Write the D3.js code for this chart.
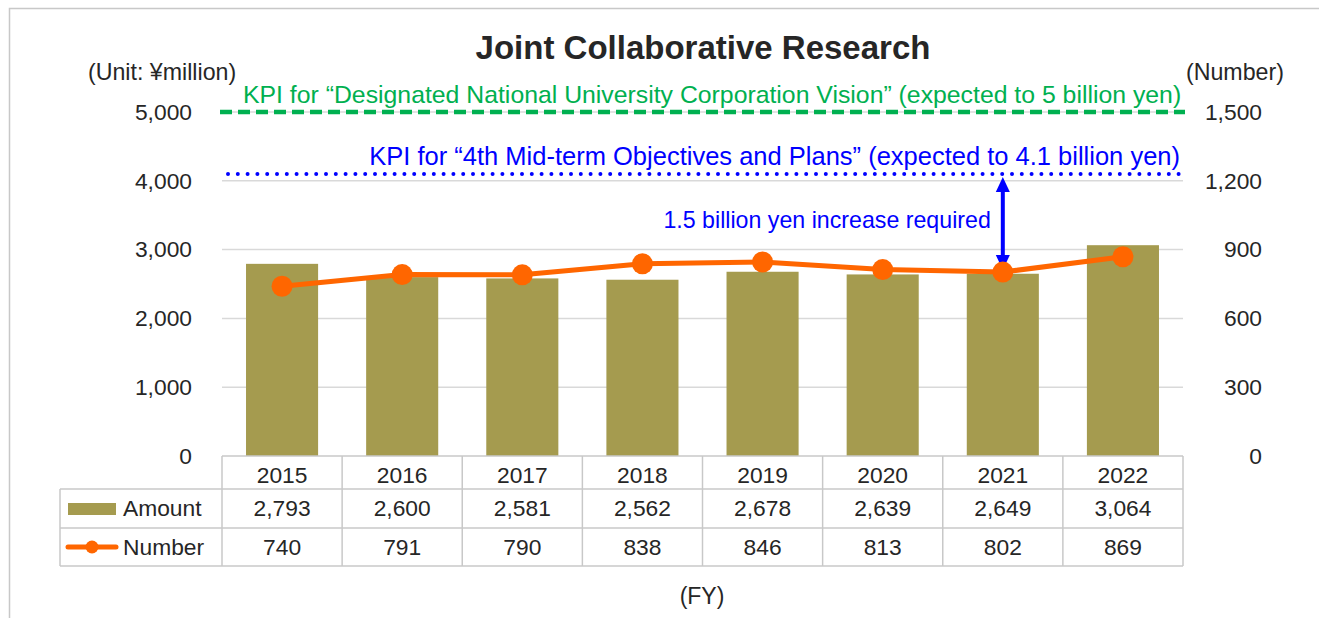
<!DOCTYPE html>
<html><head><meta charset="utf-8">
<script src="https://cdn.jsdelivr.net/npm/d3@7"></script>
<style>
html,body{margin:0;padding:0;background:#fff;}
svg{display:block;font-family:"Liberation Sans",Arial,sans-serif;}
</style></head>
<body>
<svg id="c" width="1319" height="618"></svg>
<script>
const years = ['2015','2016','2017','2018','2019','2020','2021','2022'];
const amount = [2793,2600,2581,2562,2678,2639,2649,3064];
const number = [740,791,790,838,846,813,802,869];
const leftTicks = [0,1000,2000,3000,4000,5000];
const rightTicks = [0,300,600,900,1200,1500];
const kpiVision = 5000;
const kpiMidterm = 4100;
const title = 'Joint Collaborative Research';
const greenLabel = 'KPI for \u201CDesignated National University Corporation Vision\u201D (expected to 5 billion yen)';
const blueLabel = 'KPI for \u201C4th Mid-term Objectives and Plans\u201D (expected to 4.1 billion yen)';
const arrowLabel = '1.5 billion yen increase required';
const arrowYear = '2021';

const svg = d3.select('#c');
const L = 222, R = 1183, Y0 = 456, YT = 112;
const x = d3.scaleBand().domain(years).range([L, R]).paddingInner(0.4).paddingOuter(0.2);
const xc = d3.scaleBand().domain(years).range([L, R]);
const yL = d3.scaleLinear().domain([0, 5000]).range([Y0, YT]);
const yR = d3.scaleLinear().domain([0, 1500]).range([Y0, YT]);
const grid = '#D9D9D9', txt = '#262626', border = '#C8C8C8';
const FS = 22.8;

// frame
svg.append('path').attr('d', `M9.5,618 V8.5 H1319`).attr('fill','none').attr('stroke', border).attr('stroke-width',1.5);

// title
svg.append('text').attr('x',703).attr('y',59).attr('text-anchor','middle')
  .attr('font-size',33).attr('font-weight','bold').attr('fill',txt).text(title);
svg.append('text').attr('x',88).attr('y',80).attr('font-size',23.2).attr('fill',txt).text('(Unit: \u00A5million)');
svg.append('text').attr('x',1186).attr('y',80).attr('font-size',23.2).attr('fill',txt).text('(Number)');

// gridlines
svg.append('g').selectAll('line').data(leftTicks.filter(d=>d>0)).join('line')
  .attr('x1',L).attr('x2',R).attr('y1',d=>yL(d)).attr('y2',d=>yL(d))
  .attr('stroke',grid).attr('stroke-width',1.5);

// axes
const axL = svg.append('g').attr('transform',`translate(${L},0)`)
  .call(d3.axisLeft(yL).tickValues(leftTicks).tickFormat(d3.format(',')).tickSize(0).tickPadding(30));
const axR = svg.append('g').attr('transform',`translate(${R},0)`)
  .call(d3.axisRight(yR).tickValues(rightTicks).tickFormat(d3.format(',')).tickSize(0).tickPadding(0));
axL.select('.domain').remove(); axR.select('.domain').remove();
axL.selectAll('text').attr('font-size',FS).attr('fill',txt).attr('font-family','"Liberation Sans",Arial,sans-serif');
axR.selectAll('text').attr('font-size',FS).attr('fill',txt).attr('font-family','"Liberation Sans",Arial,sans-serif')
  .attr('text-anchor','end').attr('x',1262-R);

// bars
svg.append('g').selectAll('rect').data(years).join('rect')
  .attr('x',d=>x(d)).attr('width',x.bandwidth())
  .attr('y',(d,i)=>yL(amount[i])).attr('height',(d,i)=>Y0-yL(amount[i]))
  .attr('fill','#A59B4F');

// KPI lines
svg.append('line').attr('x1',L-2).attr('x2',R+2).attr('y1',yL(kpiVision)).attr('y2',yL(kpiVision))
  .attr('stroke','#00B050').attr('stroke-width',4.5).attr('stroke-dasharray','12,6');
svg.append('line').attr('x1',L+6).attr('x2',R).attr('y1',yL(kpiMidterm)).attr('y2',yL(kpiMidterm))
  .attr('stroke','#0000FF').attr('stroke-width',4).attr('stroke-linecap','round').attr('stroke-dasharray','0,9.8');
svg.append('text').attr('x',243).attr('y',103).attr('font-size',24.8).attr('fill','#00B050').text(greenLabel);
svg.append('text').attr('x',1180).attr('y',165).attr('text-anchor','end').attr('font-size',25.5).attr('fill','#0000FF').text(blueLabel);

// arrow
const ax = xc(arrowYear) + xc.bandwidth()/2;
const aTop = yL(kpiMidterm) + 3, aBot = yR(number[years.indexOf(arrowYear)]) - 2;
svg.append('line').attr('x1',ax).attr('x2',ax).attr('y1',aTop+10).attr('y2',aBot-10).attr('stroke','#0000FF').attr('stroke-width',4);
svg.append('path').attr('d',`M${ax},${aTop} L${ax-7},${aTop+15} L${ax+7},${aTop+15} Z`).attr('fill','#0000FF');
svg.append('path').attr('d',`M${ax},${aBot} L${ax-7},${aBot-15} L${ax+7},${aBot-15} Z`).attr('fill','#0000FF');
svg.append('text').attr('x',ax-12).attr('y',228).attr('text-anchor','end').attr('font-size',23.2).attr('fill','#0000FF').text(arrowLabel);

// line series
const cx = d => xc(d) + xc.bandwidth()/2;
svg.append('path').datum(years).attr('fill','none').attr('stroke','#FF6600').attr('stroke-width',5)
  .attr('stroke-linejoin','round')
  .attr('d', d3.line().x(d=>cx(d)).y((d,i)=>yR(number[i])));
svg.append('g').selectAll('circle').data(years).join('circle')
  .attr('cx',d=>cx(d)).attr('cy',(d,i)=>yR(number[i])).attr('r',10.5).attr('fill','#FF6600');

// data table
const T = svg.append('g');
const rowY = [Y0, 489, 528, 566];
const TL = 60;
function ln(x1,y1,x2,y2){T.append('line').attr('x1',x1).attr('y1',y1).attr('x2',x2).attr('y2',y2).attr('stroke',border).attr('stroke-width',1.5);}
ln(L,rowY[0],R,rowY[0]);
ln(TL,rowY[1],R,rowY[1]);
ln(TL,rowY[2],R,rowY[2]);
ln(TL,rowY[3],R,rowY[3]);
ln(TL,rowY[1],TL,rowY[3]);
years.forEach(d=>ln(xc(d),rowY[0],xc(d),rowY[3]));
ln(R,rowY[0],R,rowY[3]);
const fmt = d3.format(',');
T.selectAll('.yr').data(years).join('text').attr('x',d=>cx(d)).attr('y',483).attr('text-anchor','middle')
  .attr('font-size',FS).attr('fill',txt).text(d=>d);
T.selectAll('.am').data(years).join('text').attr('x',d=>cx(d)).attr('y',516).attr('text-anchor','middle')
  .attr('font-size',FS).attr('fill',txt).text((d,i)=>fmt(amount[i]));
T.selectAll('.nm').data(years).join('text').attr('x',d=>cx(d)).attr('y',555).attr('text-anchor','middle')
  .attr('font-size',FS).attr('fill',txt).text((d,i)=>fmt(number[i]));
// legend
T.append('rect').attr('x',68).attr('y',503).attr('width',48).attr('height',12).attr('fill','#A59B4F');
T.append('text').attr('x',123).attr('y',516).attr('font-size',FS).attr('fill',txt).text('Amount');
T.append('line').attr('x1',68).attr('x2',116).attr('y1',547).attr('y2',547).attr('stroke','#FF6600').attr('stroke-width',5).attr('stroke-linecap','round');
T.append('circle').attr('cx',92).attr('cy',547).attr('r',6.5).attr('fill','#FF6600');
T.append('text').attr('x',123).attr('y',555).attr('font-size',FS).attr('fill',txt).text('Number');

svg.append('text').attr('x',702).attr('y',604).attr('text-anchor','middle').attr('font-size',23).attr('fill',txt).text('(FY)');
</script>
</body></html>
